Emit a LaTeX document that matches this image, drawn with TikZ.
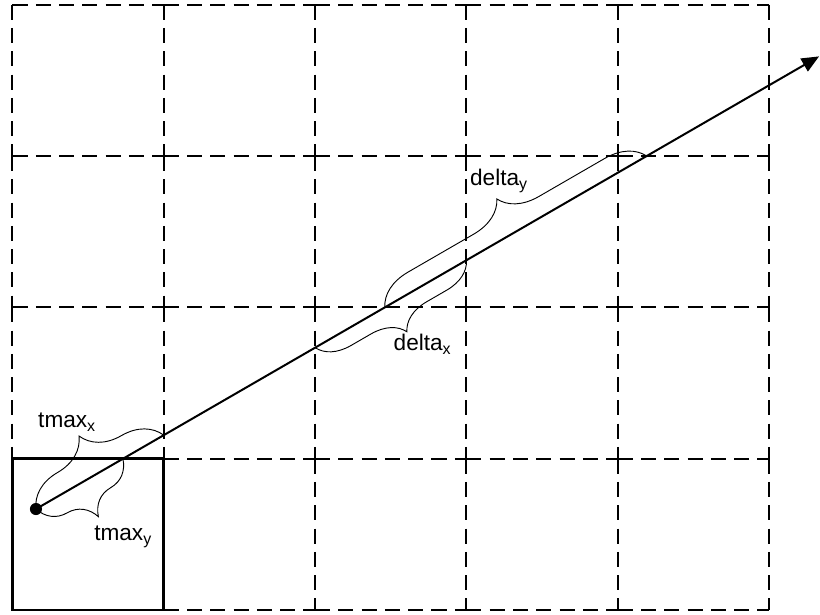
\documentclass[tikz,border=0pt]{standalone}
\usepackage{fontspec}
\setmainfont{Liberation Sans}
\usetikzlibrary{arrows.meta,decorations.pathreplacing}
\newcommand\lowidx[1]{\raisebox{-3.5pt}{\fontsize{12}{12}\selectfont #1}}

\begin{document}
\begin{tikzpicture}[x=1cm,y=1cm,
    cellline/.style={line width=1.5pt,dash pattern=on 11.3pt off 6.2pt},
    curly/.style={decorate,decoration={brace,amplitude=#1},line width=0.7pt},
    curlym/.style={decorate,decoration={brace,mirror,amplitude=#1},line width=0.7pt},
    tlabel/.style={inner sep=0pt,anchor=base west,font=\fontsize{17}{20}\selectfont}]
    \useasboundingbox (-0.33,-0.106) rectangle (21.345,16.125);
    % grid of cells
    \foreach \i in {0,...,5}
      \foreach \j in {0,...,3}
        \draw[cellline] (4*\i,4*\j+4) -- (4*\i,4*\j);
    \foreach \i in {0,...,4}
      \foreach \j in {0,...,4}
        \draw[cellline] (4*\i,4*\j) -- (4*\i+4,4*\j);
    \draw[line width=2pt] (0,0) rectangle (4,4);
    % ray
    \coordinate (orig) at (0.621,2.670);
    \coordinate (head) at (21.32,14.634);
    \coordinate (hitx1) at (intersection of orig--head and 4,0--4,16);
    \coordinate (hity1) at (intersection of orig--head and 0,4--20,4);
    \coordinate (hitx2) at (intersection of orig--head and 8,0--8,16);
    \coordinate (hitx3) at (intersection of orig--head and 12,0--12,16);
    \coordinate (hity2) at (intersection of orig--head and 0,8--20,8);
    \coordinate (hity3) at (intersection of orig--head and 0,12--20,12);
    \draw[line width=1.5pt,-{Triangle[length=13pt,width=11pt]}] (orig) -- (head);
    \fill (orig) circle (0.16);
    % braces
    \draw[curly=1.1cm] (orig) -- (hitx1);
    \draw[curlym=1.0cm] (orig) -- (hity1);
    \draw[curlym=0.85cm] (hitx2) -- (hitx3);
    \draw[curly=1.0cm] (hity2) -- (hity3);
    \node[tlabel] (tmaxx) at (0.674,4.837) {tmax\lowidx{x}};
    \node[tlabel] (tmaxy) at (2.155,1.850) {tmax\lowidx{y}};
    \node[tlabel] (deltax) at (10.07,6.87) {delta\lowidx{x}};
    \node[tlabel] (deltay) at (12.09,11.23) {delta\lowidx{y}};
\end{tikzpicture}
\end{document}
